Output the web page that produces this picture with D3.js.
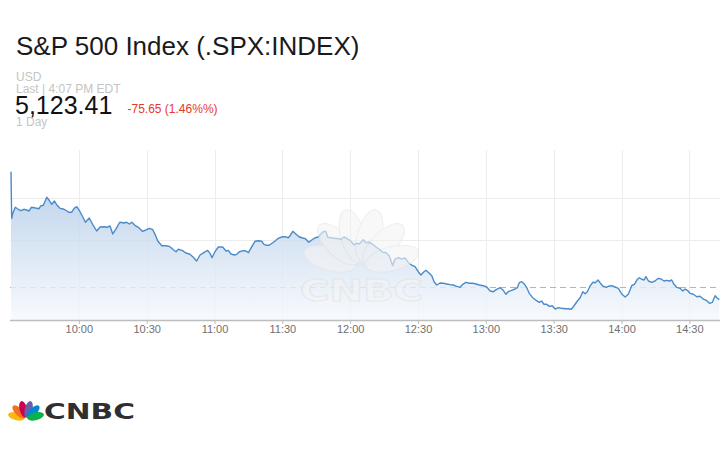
<!DOCTYPE html>
<html>
<head>
<meta charset="utf-8">
<script src="https://cdn.jsdelivr.net/npm/d3@7"></script>
<style>
  html, body { margin: 0; padding: 0; background: #fff; }
  svg { display: block; }
</style>
</head>
<body>
<svg id="chart" width="720" height="450"></svg>
<script>
// ---------------- DATA ----------------
const titleText = "S&P 500 Index (.SPX:INDEX)";
const currencyText = "USD";
const lastText = "Last | 4:07 PM EDT";
const lastPrice = "5,123.41";
const changeText = "-75.65 (1.46%%)";
const rangeText = "1 Day";
const previousClose = 5199.06;

// minutes since 9:30 open
const minutesSinceOpen = [
  0,0.3,0.8,1.9,3.2,4.4,5.7,6.9,8.0,9.0,10.3,11.5,12.4,13.1,14.3,15.8,16.9,18.0,19.2,20.2,
  21.7,23.1,24.3,25.5,26.8,27.9,29.1,30.2,31.3,32.9,34.6,36.1,37.9,39.4,41.1,42.6,43.8,45.0,46.3,47.9,
  48.2,50.0,51.2,52.3,53.4,54.8,56.3,58.1,59.7,61.2,62.7,63.7,64.9,66.7,68.6,70.3,71.8,73.0,74.0,75.9,
  77.3,78.9,80.4,82.1,83.6,85.4,87.0,88.0,88.9,90.2,91.7,93.6,95.1,96.1,97.3,98.8,99.8,101.0,
  102.7,103.9,105.0,106.5,107.9,109.4,110.9,111.9,113.1,114.2,115.4,116.8,118.2,119.7,121.2,122.6,123.4,124.6,126.1,127.5,
  129.0,130.2,131.7,133.0,134.5,135.9,137.1,138.4,139.3,140.1,141.4,143.3,144.8,146.0,147.3,148.5,150.2,151.7,152.9,154.0,
  155.8,157.0,158.5,160.0,161.4,162.9,164.4,165.9,167.3,168.8,169.8,171.3,172.8,174.3,175.7,177.2,178.7,180.1,181.3,182.4,
  183.5,185.0,186.1,187.1,188.3,189.7,191.2,192.7,194.2,195.6,197.1,198.6,199.8,201.2,202.7,204.2,205.7,207.1,
  208.9,210.4,211.9,213.3,214.8,216.3,217.7,218.9,219.9,221.4,222.9,223.9,224.8,225.9,226.9,228.1,229.2,230.7,232.2,233.7,
  234.7,235.7,236.9,238.1,239.3,240.7,242.2,243.6,245.0,246.5,247.8,249.0,250.5,251.7,252.9,253.9,254.9,256.1,257.3,258.4,259.6,
  260.5,261.7,263.2,264.2,265.7,267.1,268.6,270.1,271.6,273.0,274.5,275.7,277.0,277.9,278.9,280.0,280.8,281.9,283.4,284.8,
  286.3,287.5,288.8,290.0,291.2,292.2,293.2,294.4,295.9,297.1,298.1,299.1,300.3,301.8,303.3,304.7,306.2,307.7,308.9,310.2,
  311.4,312.4,313.3
];
const prices = [
  5226.09,5215.13,5216.31,5217.72,5217.25,5216.92,5217.25,5217.08,5216.85,5217.72,5217.62,5217.48,5217.39,5218.02,5218.19,5220.07,5219.36,5218.42,5219.20,5218.33,
  5217.48,5217.32,5217.01,5216.54,5216.54,5217.48,5217.86,5217.01,5215.91,5214.19,5215.20,5213.72,5212.14,5213.08,5213.15,5213.01,5213.32,5211.44,5212.54,5214.02,
  5214.19,5214.02,5214.19,5213.79,5214.19,5213.48,5213.01,5212.07,5212.38,5212.78,5212.45,5211.36,5209.79,5208.68,5208.68,5208.45,5207.74,5207.27,5207.84,5207.51,
  5206.96,5206.73,5206.09,5205.08,5206.49,5207.13,5207.60,5206.89,5205.86,5207.27,5208.38,5208.38,5207.44,5207.60,5206.73,5206.49,5206.66,5207.27,
  5207.51,5207.44,5207.04,5208.45,5209.72,5209.86,5209.72,5209.01,5208.78,5208.78,5209.25,5209.79,5210.42,5210.73,5210.80,5210.56,5211.04,5212.07,5211.36,5210.73,
  5210.49,5210.33,5209.48,5210.02,5210.56,5210.73,5211.51,5212.07,5211.98,5210.66,5210.56,5210.42,5210.33,5210.19,5210.73,5210.42,5209.79,5208.92,5209.25,5209.08,
  5210.09,5209.39,5209.48,5209.01,5208.38,5207.84,5207.13,5207.04,5206.26,5203.98,5205.48,5205.86,5205.55,5205.79,5204.68,5204.14,5203.74,5202.56,5201.79,5202.42,
  5202.89,5202.19,5201.62,5200.21,5199.44,5199.91,5199.84,5199.67,5199.51,5199.44,5199.13,5198.89,5199.60,5200.07,5199.84,5199.84,5199.67,5199.44,
  5199.27,5198.96,5198.02,5197.86,5198.42,5198.80,5198.19,5197.25,5197.86,5198.19,5198.49,5198.80,5199.98,5200.21,5199.74,5198.80,5197.48,5196.45,5195.84,5195.36,
  5195.67,5194.89,5194.89,5194.42,5194.56,5193.79,5194.09,5193.95,5193.86,5193.86,5193.72,5194.56,5195.67,5196.45,5197.86,5197.39,5197.86,5199.20,5200.07,5199.98,5200.61,
  5199.98,5199.20,5198.89,5199.13,5199.27,5198.96,5198.66,5197.32,5196.61,5197.25,5199.27,5199.60,5200.78,5201.15,5200.78,5200.61,5201.39,5200.38,5200.07,5200.38,
  5201.01,5200.85,5200.38,5200.54,5200.38,5200.61,5199.60,5198.89,5198.66,5198.02,5198.49,5198.19,5197.48,5197.25,5196.68,5196.78,5196.14,5195.74,5195.13,5195.36,
  5196.92,5196.31,5195.98
];

const tickMinutes = [30, 60, 90, 120, 150, 180, 210, 240, 270, 300];
const tickLabels = ["10:00","10:30","11:00","11:30","12:00","12:30","13:00","13:30","14:00","14:30"];
const gridValues = [5210, 5220];

// ---------------- CHART ----------------
const data = minutesSinceOpen.map((m, i) => ({ m: m, v: prices[i] }));
const svg = d3.select("#chart");
const FONT = "'Liberation Sans', Arial, Helvetica, sans-serif";

const plot = { left: 10, right: 720, top: 150, bottom: 320 };
const x = d3.scaleLinear().domain([0, 314]).range([11, 721]);
const y = d3.scaleLinear().domain([5191.2, 5231.2]).range([plot.bottom, plot.top]);

// header text
svg.append("text").attr("x", 16).attr("y", 55).attr("font-family", FONT).attr("font-size", 26)
  .attr("fill", "#1a1a1a").text(titleText);
svg.append("text").attr("x", 16).attr("y", 80.5).attr("font-family", FONT).attr("font-size", 12)
  .attr("fill", "#c4c4c4").text(currencyText);
svg.append("text").attr("x", 16).attr("y", 92.5).attr("font-family", FONT).attr("font-size", 12)
  .attr("fill", "#c4c4c4").text(lastText);
svg.append("text").attr("x", 15).attr("y", 114).attr("font-family", FONT).attr("font-size", 25)
  .attr("fill", "#111").text(lastPrice);
svg.append("text").attr("x", 127.5).attr("y", 113).attr("font-family", FONT).attr("font-size", 12)
  .attr("fill", "#e8372c").text(changeText);
svg.append("text").attr("x", 16).attr("y", 126).attr("font-family", FONT).attr("font-size", 12)
  .attr("fill", "#c4c4c4").text(rangeText);

const defs = svg.append("defs");
const grad = defs.append("linearGradient").attr("id", "areaGrad")
  .attr("gradientUnits", "userSpaceOnUse")
  .attr("x1", 0).attr("y1", plot.top).attr("x2", 0).attr("y2", plot.bottom);
grad.append("stop").attr("offset", "0%").attr("stop-color", "rgb(160,191,226)");
grad.append("stop").attr("offset", "100%").attr("stop-color", "rgb(246,249,253)");

defs.append("clipPath").attr("id", "plotClip").append("rect")
  .attr("x", plot.left).attr("y", plot.top - 30).attr("width", plot.right - plot.left).attr("height", plot.bottom - plot.top + 30);

const g = svg.append("g");

// vertical gridlines
g.selectAll("line.vgrid").data(tickMinutes).enter().append("line")
  .attr("x1", d => Math.round(x(d)) + 0.5).attr("x2", d => Math.round(x(d)) + 0.5)
  .attr("y1", plot.top).attr("y2", plot.bottom)
  .attr("stroke", "#ececec").attr("stroke-width", 1);

// horizontal gridlines
g.selectAll("line.hgrid").data(gridValues).enter().append("line")
  .attr("x1", plot.left).attr("x2", plot.right)
  .attr("y1", d => Math.round(y(d)) + 0.5).attr("y2", d => Math.round(y(d)) + 0.5)
  .attr("stroke", "#ececec").attr("stroke-width", 1);

// previous close dashed line
g.append("line")
  .attr("x1", plot.left).attr("x2", plot.right)
  .attr("y1", Math.round(y(previousClose)) + 0.5).attr("y2", Math.round(y(previousClose)) + 0.5)
  .attr("stroke", "#8fd27c").attr("stroke-width", 1).attr("stroke-dasharray", "6,4");

const chartG = g.append("g").attr("clip-path", "url(#plotClip)");

const area = d3.area().x(d => x(d.m)).y0(plot.bottom).y1(d => y(d.v));
chartG.append("path").datum(data).attr("d", area)
  .attr("fill", "url(#areaGrad)").attr("fill-opacity", 0.82);

const line = d3.line().x(d => x(d.m)).y(d => y(d.v));
chartG.append("path").datum(data).attr("d", line)
  .attr("fill", "none").attr("stroke", "#4a8bca").attr("stroke-width", 1.4)
  .attr("stroke-linejoin", "round");

// x axis
const xAxis = d3.axisBottom(x).tickValues(tickMinutes)
  .tickFormat((d, i) => tickLabels[i]).tickSize(4).tickSizeOuter(0);
const axG = svg.append("g").attr("transform", `translate(0,${plot.bottom})`).call(xAxis);
axG.select(".domain").remove();
axG.append("line").attr("x1", plot.left).attr("x2", plot.right).attr("y1", 0.5).attr("y2", 0.5)
  .attr("stroke", "#bdbdbd").attr("stroke-width", 1.5);
axG.selectAll(".tick line").attr("stroke", "#bdbdbd").attr("y1", 0);
axG.selectAll(".tick text").attr("font-family", FONT).attr("font-size", 11)
  .attr("fill", "#6f6f6f").attr("dy", 0).attr("y", 12.5);

// CNBC watermark (peacock + text) drawn over the chart
const wm = svg.append("g").attr("opacity", 0.62);
const wmBase = [361, 267];
const featherAngles = [-75, -45, -15, 15, 45, 75];
featherAngles.forEach(a => {
  wm.append("ellipse")
    .attr("cx", 0).attr("cy", -32).attr("rx", 12).attr("ry", 27)
    .attr("transform", `translate(${wmBase[0]},${wmBase[1]}) rotate(${a})`)
    .attr("fill", "#f4f4f4").attr("stroke", "#e4e4e4").attr("stroke-width", 1);
});
wm.append("text").attr("x", 300).attr("y", 301)
  .attr("font-family", "'DejaVu Sans', sans-serif").attr("font-weight", "bold").attr("font-size", 31)
  .attr("textLength", 123).attr("lengthAdjust", "spacingAndGlyphs")
  .attr("fill", "#f4f4f4").attr("stroke", "#e2e2e2").attr("stroke-width", 1).text("CNBC");

// CNBC logo bottom-left
const logo = svg.append("g");
const logoBase = [26, 419];
const logoColors = ["#fcb711", "#f37021", "#cc004c", "#6460aa", "#0089d0", "#0db14b"];
featherAngles.forEach((a, i) => {
  logo.append("ellipse")
    .attr("cx", 0).attr("cy", -10).attr("rx", 3.8).attr("ry", 8.5)
    .attr("transform", `translate(${logoBase[0]},${logoBase[1]}) rotate(${a})`)
    .attr("fill", logoColors[i]);
});
logo.append("text").attr("x", 44).attr("y", 419)
  .attr("font-family", "'DejaVu Sans', sans-serif").attr("font-weight", "bold").attr("font-size", 20.5)
  .attr("textLength", 91).attr("lengthAdjust", "spacingAndGlyphs")
  .attr("fill", "#2f2f2f").text("CNBC");
</script>
</body>
</html>
